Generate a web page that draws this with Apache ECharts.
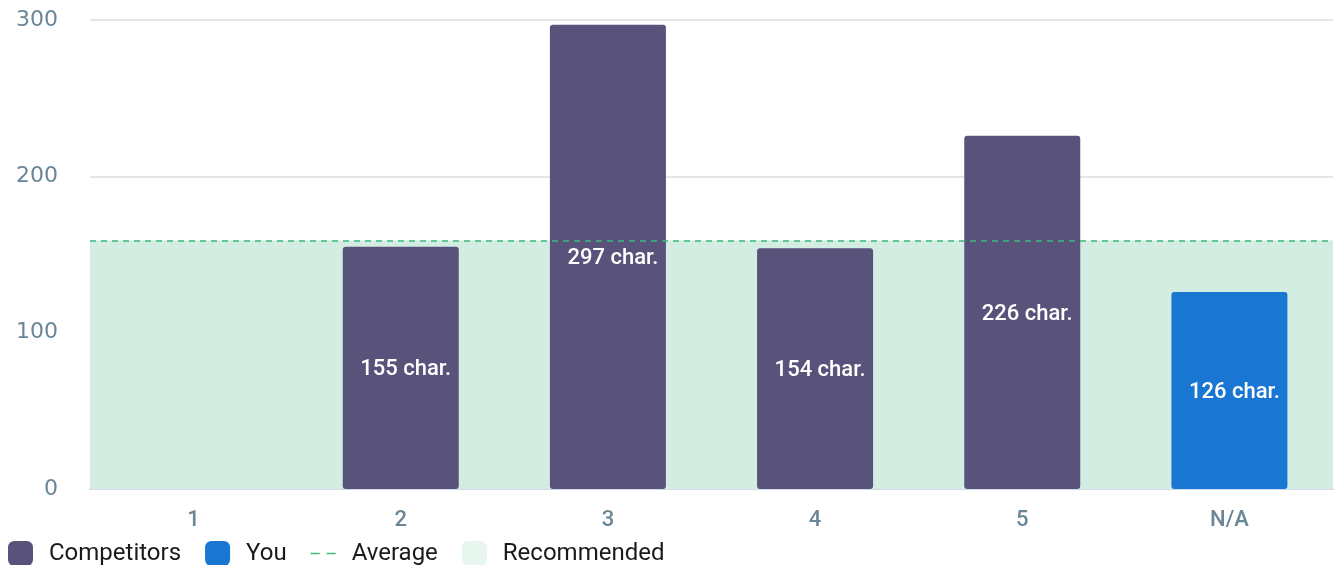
<!DOCTYPE html>
<html>
<head>
<meta charset="utf-8">
<script src="https://cdn.jsdelivr.net/npm/echarts@6/dist/echarts.min.js"></script>
<style>
  html, body { margin: 0; padding: 0; background: #fff; }
  #chart { width: 1334px; height: 565px; }
</style>
</head>
<body>
<div id="chart"></div>
<script>
// Title lengths per ranking position
const categories = ['1', '2', '3', '4', '5', 'N/A'];
const competitors = [null, 155, 297, 154, 226, null];
const you = [null, null, null, null, null, 126];
const averageValue = 159;
const recommendedRange = [0, 159];
const yTicks = [0, 100, 200, 300];

const chart = echarts.init(document.getElementById('chart'));

const barLabel = {
  show: true,
  position: 'inside',
  offset: [5, 2],
  color: '#ffffff',
  fontFamily: 'Roboto',
  fontSize: 22,
  fontWeight: 500,
  formatter: p => p.value + ' char.'
};

chart.setOption({
  animation: false,
  grid: { left: 90, right: 1, top: 20, bottom: 76 },
  legend: {
    left: 8,
    top: 541,
    padding: 0,
    itemWidth: 25,
    itemHeight: 25,
    itemGap: 24,
    textStyle: { fontFamily: 'Roboto', fontSize: 24, color: '#1a1a1a', padding: [3, 0, 0, 11] },
    data: [
      { name: 'Competitors', icon: 'roundRect', itemStyle: { color: '#59527a' } },
      { name: 'You', icon: 'roundRect', itemStyle: { color: '#1976d2' } },
      { name: 'Average', icon: 'path://M0,12 h8 v1.5 h-8z M14,12 h8 v1.5 h-8z', itemStyle: { color: '#3dbb7d' } },
      { name: 'Recommended', icon: 'roundRect', itemStyle: { color: '#e8f6f0' } }
    ]
  },
  xAxis: {
    type: 'category',
    data: categories,
    axisLine: { lineStyle: { color: '#d3d8ea', width: 2 } },
    axisTick: { show: false },
    axisLabel: { color: '#6b8797', fontFamily: 'Roboto', fontSize: 22, fontWeight: 500, margin: 20 }
  },
  yAxis: {
    type: 'value',
    min: 0,
    max: 300,
    interval: 100,
    axisLine: { show: false },
    axisTick: { show: false },
    splitLine: { lineStyle: { color: '#e6e6e6', width: 2 } },
    axisLabel: {
      color: '#6b8797', fontFamily: 'DejaVu Sans', fontSize: 22, margin: 32,
      formatter: v => yTicks.includes(v) ? String(v) : ''
    }
  },
  series: [
    {
      name: 'Recommended',
      type: 'bar',
      data: [],
      itemStyle: { color: '#e8f6f0' },
      markArea: {
        silent: true,
        itemStyle: { color: '#d4ede2' },
        data: [[{ yAxis: recommendedRange[0] }, { yAxis: recommendedRange[1] }]]
      }
    },
    {
      name: 'Average',
      type: 'line',
      data: [],
      symbol: 'none',
      lineStyle: { color: '#3dbb7d', type: 'dashed' },
      markLine: {
        silent: true,
        symbol: 'none',
        label: { show: false },
        lineStyle: { color: '#3dbb7d', type: [6, 5], width: 1.5 },
        data: [{ yAxis: averageValue }]
      }
    },
    {
      name: 'Competitors',
      type: 'bar',
      stack: 'all',
      barWidth: 116,
      data: competitors,
      itemStyle: { color: '#59527a', borderRadius: 3 },
      label: barLabel
    },
    {
      name: 'You',
      type: 'bar',
      stack: 'all',
      barWidth: 116,
      data: you,
      itemStyle: { color: '#1976d2', borderRadius: 3 },
      label: barLabel
    }
  ]
});
</script>
</body>
</html>
